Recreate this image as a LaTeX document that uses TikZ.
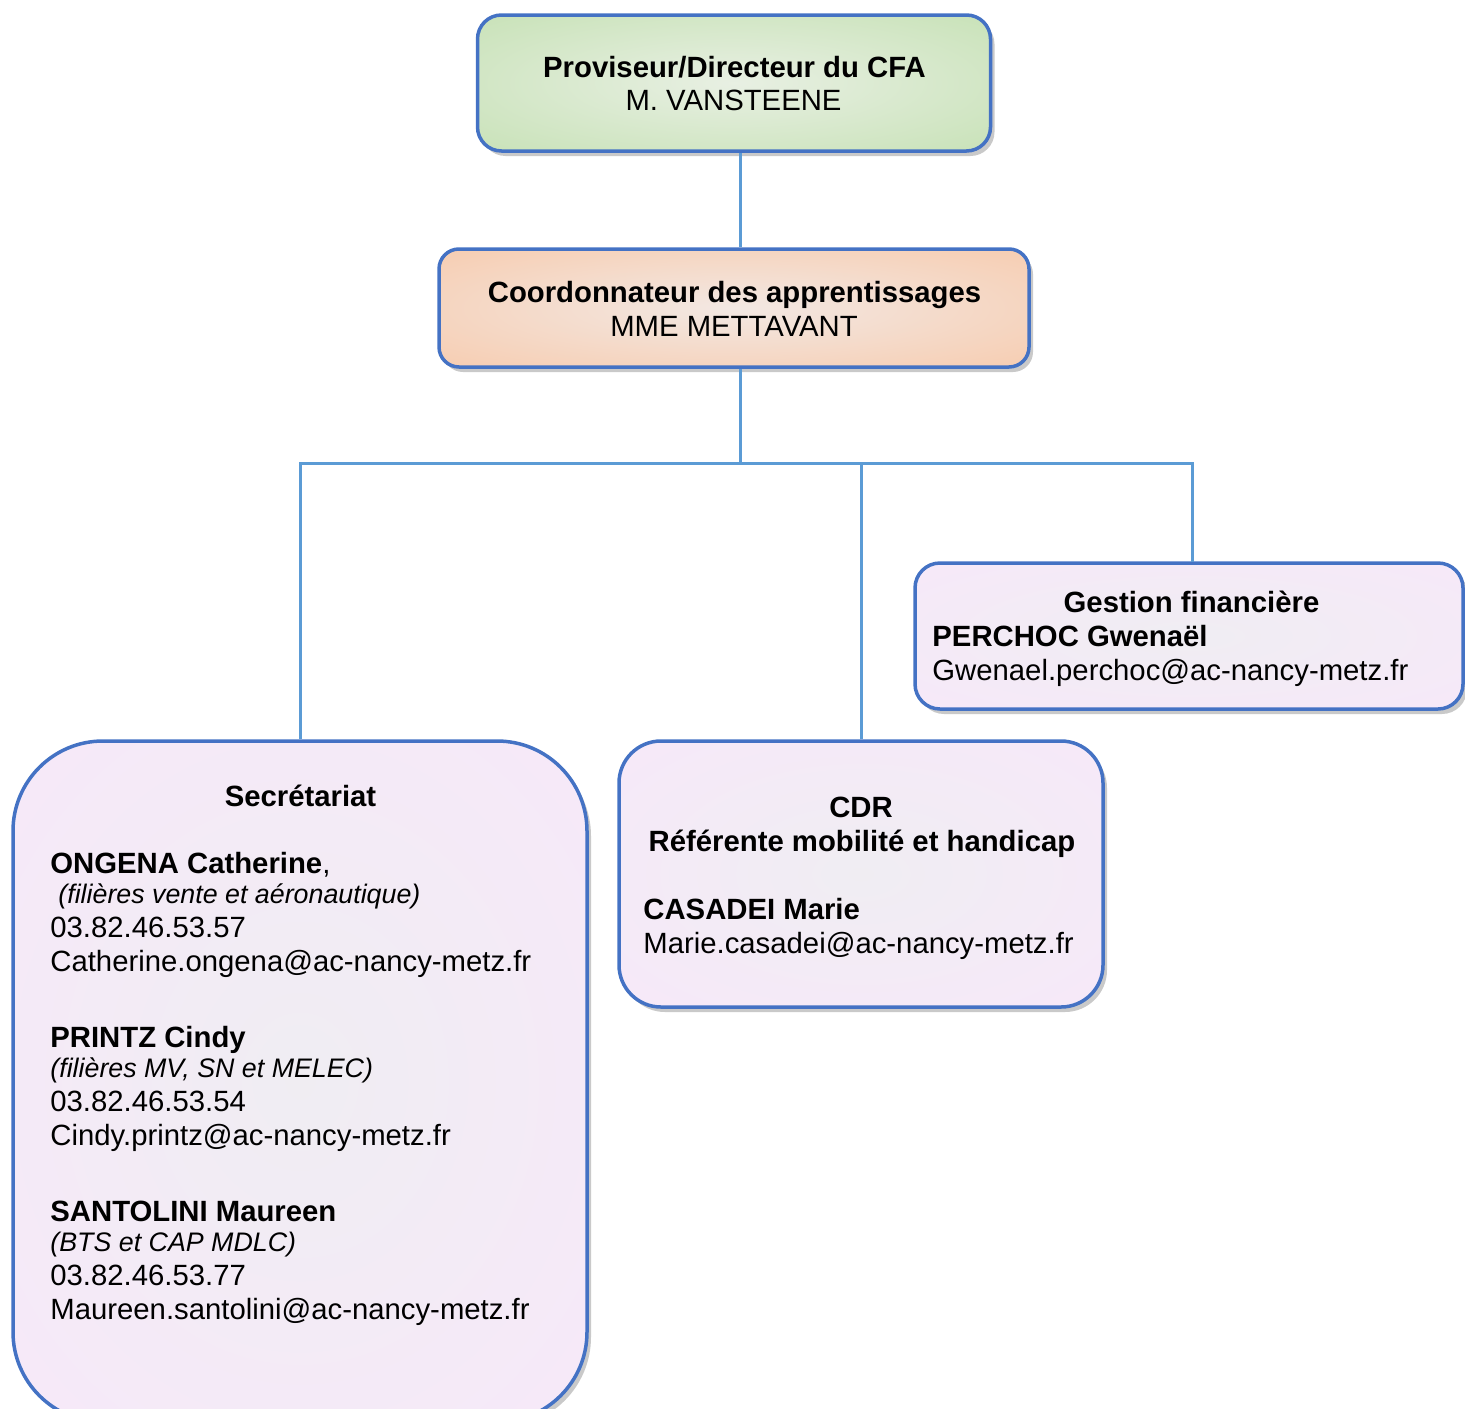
\documentclass[tikz,border=0pt]{standalone}
\usepackage{fontspec}
\setmainfont{Liberation Sans}
\usetikzlibrary{shadows}
\definecolor{boxblue}{RGB}{68,114,196}
\definecolor{linkblue}{RGB}{91,155,213}
\pgfdeclareradialshading{greenshade}{\pgfpoint{0bp}{0bp}}{rgb(0bp)=(0.91,0.94,0.89);rgb(40bp)=(0.77,0.88,0.70);rgb(100bp)=(0.77,0.88,0.70)}
\pgfdeclareradialshading{orangeshade}{\pgfpoint{0bp}{0bp}}{rgb(0bp)=(0.95,0.91,0.89);rgb(40bp)=(0.97,0.79,0.67);rgb(100bp)=(0.97,0.79,0.67)}
\pgfdeclareradialshading{lavshade}{\pgfpoint{0bp}{0bp}}{rgb(0bp)=(0.94,0.93,0.95);rgb(40bp)=(0.97,0.91,0.98);rgb(100bp)=(0.97,0.91,0.98)}
\begin{document}
\begin{tikzpicture}[x=0.5pt,y=-0.5pt,
  orgbox/.style={rectangle, draw=boxblue, line width=1.75pt, inner sep=0pt,
    drop shadow={shadow xshift=2pt, shadow yshift=-2.5pt, opacity=0.3, fill=black!70}},
  conn/.style={draw=linkblue, line width=1.5pt},
  txt/.style={inner sep=0pt, font=\fontsize{14.65pt}{17pt}\selectfont},
  ltxt/.style={txt, anchor=base west},
  ctxt/.style={txt, anchor=base},
  itxt/.style={inner sep=0pt, anchor=base west, font=\fontsize{13.4pt}{16pt}\selectfont\itshape}]
\useasboundingbox (0,0) rectangle (1465,1408);
\clip (0,0) rectangle (1465,1408);

% boxes
\node[orgbox, shade, shading=greenshade, rounded corners=12pt, minimum width=256.5pt, minimum height=68pt] (dir) at (734,83) {};
\node[orgbox, shade, shading=orangeshade, rounded corners=10pt, minimum width=295pt, minimum height=59pt] (coord) at (734,308) {};
\node[orgbox, shade, shading=lavshade, rounded corners=12.5pt, minimum width=274pt, minimum height=73pt] (gest) at (1189,636) {};
\node[orgbox, shade, shading=lavshade, rounded corners=21pt, minimum width=242pt, minimum height=133pt] (cdr) at (861,874) {};
\node[orgbox, shade, shading=lavshade, rounded corners=45pt, minimum width=287pt, minimum height=340.5pt] (sec) at (300,1081.5) {};

% connectors
\coordinate (trunk) at (740,463);
\coordinate (gtop) at (1192,562);
\draw[conn] (dir.south -| trunk) -- (coord.north -| trunk);
\draw[conn] (coord.south -| trunk) -- (trunk);
\draw[conn] (sec.north) -- (sec.north |- trunk) -- (gtop |- trunk) -- (gtop);
\draw[conn] (cdr.north) -- (cdr.north |- trunk);

% texts: director
\node[ctxt] (dirA) at (734.5,77) {\textbf{Proviseur/Directeur du CFA}};
\node[ctxt] (dirB) at (733.5,110) {M. VANSTEENE};
% coordinator
\node[ctxt] (coA) at (734.5,302) {\textbf{Coordonnateur des apprentissages}};
\node[ctxt] (coB) at (734,336) {MME METTAVANT};
% gestion
\node[ctxt] (geA) at (1191.5,612) {\textbf{Gestion financière}};
\node[ltxt] (geB) at (932,646) {\textbf{PERCHOC Gwenaël}};
\node[ltxt] (geC) at (932,680) {Gwenael.perchoc@ac-nancy-metz.fr};
% CDR
\node[ctxt] (cdA) at (861,817) {\textbf{CDR}};
\node[ctxt] (cdB) at (862,851) {\textbf{Référente mobilité et handicap}};
\node[ltxt] (cdC) at (643,919) {\textbf{CASADEI Marie}};
\node[ltxt] (cdD) at (643,953) {Marie.casadei@ac-nancy-metz.fr};
% secretariat
\node[ctxt] (seA) at (300.5,806) {\textbf{Secrétariat}};
\node[ltxt] (s1a) at (50,873) {\textbf{ONGENA Catherine},};
\node[itxt] (s1b) at (58,903) {(filières vente et aéronautique)};
\node[ltxt] (s1c) at (50,937) {03.82.46.53.57};
\node[ltxt] (s1d) at (50,971) {Catherine.ongena@ac-nancy-metz.fr};
\node[ltxt] (s2a) at (50,1047) {\textbf{PRINTZ Cindy}};
\node[itxt] (s2b) at (50,1077) {(filières MV, SN et MELEC)};
\node[ltxt] (s2c) at (50,1111) {03.82.46.53.54};
\node[ltxt] (s2d) at (50,1145) {Cindy.printz@ac-nancy-metz.fr};
\node[ltxt] (s3a) at (50,1221) {\textbf{SANTOLINI Maureen}};
\node[itxt] (s3b) at (50,1251) {(BTS et CAP MDLC)};
\node[ltxt] (s3c) at (50,1285) {03.82.46.53.77};
\node[ltxt] (s3d) at (50,1319) {Maureen.santolini@ac-nancy-metz.fr};
\end{tikzpicture}
\end{document}
